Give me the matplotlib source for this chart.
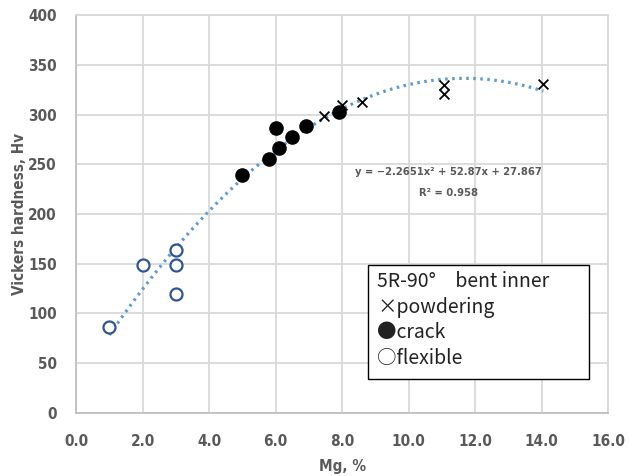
import numpy as np
import matplotlib
matplotlib.use("Agg")
import matplotlib.pyplot as plt
from matplotlib.patches import Rectangle

# flexible (open circles)
flex_mg = [1.0, 2.0, 3.0, 3.0, 3.0]
flex_hv = [86, 149, 164, 149, 120]

# crack (filled circles)
crack_mg = [5.0, 5.8, 6.0, 6.1, 6.5, 6.9, 7.9]
crack_hv = [239, 255, 286, 266, 277, 288, 303]

# powdering (x marks)
powd_mg = [7.45, 8.0, 8.6, 11.05, 11.05, 14.05]
powd_hv = [299, 310, 313, 330, 321, 331]

# quadratic trendline coefficients as printed on chart
coef = [-2.2651, 52.87, 27.867]
r2 = 0.958

legend_lines = ["5R-90\u00b0\u3000bent inner", "\u00d7powdering", "\u25cfcrack", "\u25cbflexible"]

tick_col = "#595959"
tick_font = dict(family="DejaVu Sans", stretch="condensed", weight="bold", size=11, color=tick_col)
eq_font = dict(tick_font, size=8)

fig = plt.figure(figsize=(6.29, 4.76), dpi=100)
ax = fig.add_axes([0.121, 0.1324, 0.846, 0.836])

xs = np.linspace(min(flex_mg), max(powd_mg), 200)
ax.plot(xs, np.polyval(coef, xs), linestyle=(0, (0.8, 1.4)), color="#5b9bd5", lw=2.3, zorder=2)

ax.scatter(flex_mg, flex_hv, s=75, facecolors="white", edgecolors="#2f5597", linewidths=1.6, zorder=3)
ax.scatter(crack_mg, crack_hv, s=90, color="black", zorder=3)
ax.scatter(powd_mg, powd_hv, s=50, marker="x", color="black", linewidths=1.3, zorder=3)

ax.set_xlim(0, 16)
ax.set_ylim(0, 400)
ax.set_xticks(np.arange(0, 17, 2))
ax.set_yticks(np.arange(0, 401, 50))
ax.set_xticklabels(["%.1f" % v for v in np.arange(0, 17, 2)], fontdict=tick_font)
ax.set_yticklabels([str(v) for v in range(0, 401, 50)], fontdict=tick_font)
ax.tick_params(axis="x", length=0, pad=15)
ax.tick_params(axis="y", length=0, pad=14)
ax.grid(True, color="#d9d9d9", lw=1.3)
ax.set_axisbelow(True)
for s in ax.spines.values():
    s.set_color("#d9d9d9")
    s.set_linewidth(1.3)
ax.spines["left"].set_color("#bfbfbf")
ax.spines["bottom"].set_color("#bfbfbf")

ax.set_xlabel("Mg, %", fontdict=tick_font)
ax.xaxis.set_label_coords(0.5, -0.115)
ax.set_ylabel("Vickers hardness, Hv", fontdict=tick_font)
ax.yaxis.set_label_coords(-0.092, 0.5)

eq = "y = %.4fx\u00b2 + %.2fx + %.3f" % tuple(coef)
ax.text(11.19, 242, eq.replace("-", "\u2212"), ha="center", va="center", fontdict=eq_font)
ax.text(11.19, 221, "R\u00b2 = %.3f" % r2, ha="center", va="center", fontdict=eq_font)

# legend-like text box (drawn as plain text in the original)
ax.add_patch(Rectangle((0.549, 0.086), 0.415, 0.286, transform=ax.transAxes,
                       facecolor="white", edgecolor="black", lw=1.0, zorder=5))
for i, line in enumerate(legend_lines):
    ax.text(0.566, 0.330 - i * 0.0645, line, transform=ax.transAxes, ha="left", va="center",
            family=["Noto Sans CJK JP", "DejaVu Sans"], fontsize=14, color="#222222", zorder=6)

fig.savefig("out.png", dpi=100)
